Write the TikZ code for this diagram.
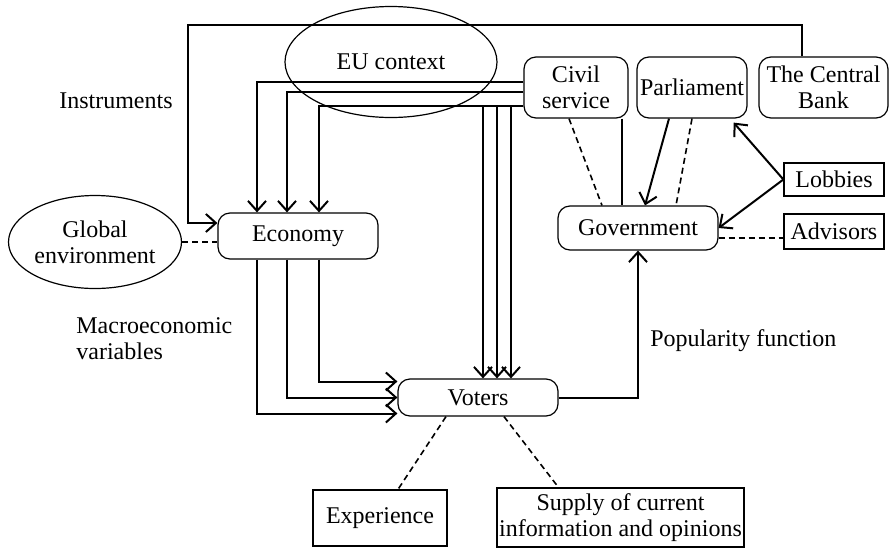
\documentclass[tikz,border=0pt]{standalone}
\usepackage{fontspec}
\setmainfont{Liberation Serif}
\usetikzlibrary{arrows.meta,shapes.geometric}
\begin{document}
\begin{tikzpicture}[x=0.5pt,y=-0.5pt,
  font=\fontsize{12}{13}\selectfont,
  rbox/.style={draw,rounded corners=6pt,line width=0.6pt,inner sep=1pt,align=center},
  sbox/.style={draw,line width=0.6pt,inner sep=1pt,align=center},
  ell/.style={draw,ellipse,line width=0.6pt,inner sep=0pt,align=center},
  conn/.style={line width=1pt},
  arr/.style={conn,-{Straight Barb[length=5pt,width=9pt]}},
  dsh/.style={line width=0.8pt,dash pattern=on 3pt off 2pt},
  lab/.style={inner sep=0pt}]
\useasboundingbox (0,0) rectangle (890,547);
% nodes
\node[ell,minimum width=106pt,minimum height=55.5pt] (eu) at (391,62) {EU context};
\node[ell,minimum width=86.5pt,minimum height=46.5pt] (glob) at (95,242) {Global\\environment};
\node[rbox,minimum width=52pt,minimum height=30.5pt] (civ) at (576,87.5) {Civil\\service};
\node[rbox,minimum width=55pt,minimum height=30.5pt] (parl) at (692,87.5) {Parliament};
\node[rbox,minimum width=64.5pt,minimum height=30.5pt] (cb) at (823.5,87.5) {The Central\\Bank};
\node[sbox,minimum width=50pt,minimum height=16.5pt] (lob) at (834,179.5) {Lobbies};
\node[sbox,minimum width=50pt,minimum height=17.5pt] (adv) at (834,231.5) {Advisors};
\node[rbox,minimum width=80pt,minimum height=22pt] (gov) at (638,228) {Government};
\node[rbox,minimum width=80pt,minimum height=23pt] (eco) at (298,236) {Economy};
\node[rbox,minimum width=80pt,minimum height=18.5pt] (vot) at (478,397.5) {Voters};
\node[sbox,minimum width=67pt,minimum height=28pt] (exp) at (380,518) {Experience};
\node[sbox,minimum width=123.5pt,minimum height=29.5pt] (sup) at (620.5,517.5) {Supply of current\\information and opinions};
% labels
\node[lab,anchor=east] (instr) at (173,101) {Instruments};
\node[lab,anchor=west,align=left] (macro) at (76,339) {Macroeconomic\\variables};
\node[lab,anchor=west] (pop) at (650,341) {Popularity function};
% instruments loop
\draw[arr] ([xshift=-10.75pt]cb.north) |- (188,25) |- ([yshift=6.5pt]eco.west);
% civil service buses
\draw[arr] ([yshift=2.75pt]civ.west) -| ([xshift=-20.5pt]eco.north);
\draw[arr] ([yshift=-2.25pt]civ.west) -| ([xshift=-5.5pt]eco.north);
\draw[arr] ([yshift=-9.25pt]civ.west) -| ([xshift=10.5pt]eco.north);
\draw[arr] ([yshift=-9.25pt]civ.west) -| ([xshift=2.5pt]vot.north);
\draw[arr] ([yshift=-9.25pt]civ.west) -| ([xshift=9.5pt]vot.north);
\draw[arr] ([yshift=-9.25pt]civ.west) -| ([xshift=16.5pt]vot.north);
% government links
\draw[conn] ([xshift=23pt]civ.south) -- ([xshift=-8pt]gov.north);
\draw[dsh] ([xshift=-3.5pt]civ.south) -- ([xshift=-18pt]gov.north);
\draw[arr] ([xshift=-11.5pt]parl.south) -- ([xshift=3.5pt]gov.north);
\draw[dsh] (parl.south) -- ([xshift=19pt]gov.north);
\draw[arr] (lob.west) -- ([xshift=-7pt,yshift=-2pt]parl.south east);
\draw[arr] (lob.west) -- (gov.east);
\draw[dsh] ([yshift=-5pt]gov.east) -- ([yshift=-5pt]gov.east -| adv.west);
\draw[dsh] (glob.east) -- (glob.east -| eco.west);
% economy to voters
\draw[arr] ([xshift=-20.5pt]eco.south) |- ([yshift=-8pt]vot.west);
\draw[arr] ([xshift=-5.5pt]eco.south) |- (vot.west);
\draw[arr] ([xshift=10.5pt]eco.south) |- ([yshift=8pt]vot.west);
\draw[arr] (vot.east) -| (gov.south);
% voters sources
\draw[dsh] ([xshift=-16pt]vot.south) -- ([xshift=9pt]exp.north);
\draw[dsh] ([xshift=13pt]vot.south) -- ([xshift=-31pt]sup.north);
\end{tikzpicture}
\end{document}
